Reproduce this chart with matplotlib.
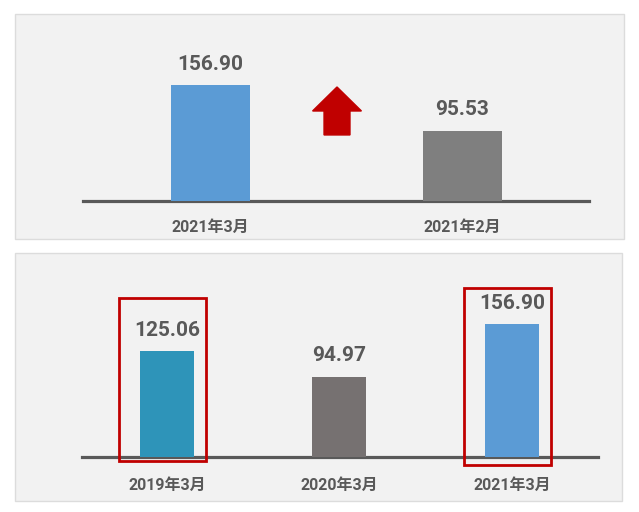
import matplotlib.pyplot as plt
import numpy as np
from matplotlib.patches import Rectangle, FancyArrow

# condensed bold for digits, CJK glyphs fall back to Noto
plt.rcParams['font.family'] = ['Roboto', 'Noto Sans CJK SC', 'DejaVu Sans']
plt.rcParams['font.stretch'] = 'condensed'

# top chart: month-on-month
top_labels = ['2021年3月', '2021年2月']
top_values = [156.90, 95.53]
top_colors = ['#5B9BD5', '#7F7F7F']

# bottom chart: same month across years
bot_labels = ['2019年3月', '2020年3月', '2021年3月']
bot_values = [125.06, 94.97, 156.90]
bot_colors = ['#2E94B9', '#767171', '#5B9BD5']
bot_highlight = [0, 2]

W, H = 639, 512
fig = plt.figure(figsize=(W / 100, H / 100), dpi=100)
fig.patch.set_facecolor('white')


def px_rect(x0, y0, x1, y1):
    # pixel box (top-left origin) -> figure fraction
    return [x0 / W, 1 - y1 / H, (x1 - x0) / W, (y1 - y0) / H]


# panel backgrounds
for x0, y0, x1, y1 in [(15, 14, 624, 239), (15, 253, 622, 501)]:
    l, b, w, h = px_rect(x0, y0, x1, y1)
    fig.patches.append(Rectangle((l, b), w, h, transform=fig.transFigure,
                                 facecolor='#F2F2F2', edgecolor='#DCDCDC', lw=1, zorder=-5))

label_col = '#595959'
val_font = dict(fontsize=15, fontweight='bold', color=label_col)
cat_font = dict(fontsize=11.5, fontweight='bold', color=label_col)


def style_axes(ax, labels, x, drop):
    ax.set_facecolor('none')
    for s in ax.spines.values():
        s.set_visible(False)
    ax.set_xticks([])
    ax.set_yticks([])
    ax.axhline(0, color='#595959', lw=2.3, zorder=1, clip_on=False)
    for xi, lab in zip(x, labels):
        ax.annotate(lab, (xi, 0), xytext=(0, -drop),
                    textcoords='offset pixels', ha='center', va='center', **cat_font)


def value_labels(ax, x, vals):
    for xi, v in zip(x, vals):
        ax.annotate(f'{v:.2f}', (xi, v), xytext=(0, 21), textcoords='offset pixels',
                    ha='center', va='center', **val_font)


# ---- top ----
ax1 = fig.add_axes(px_rect(83, 14, 589, 201))
x1 = np.arange(len(top_values))
ax1.bar(x1, top_values, width=0.313, color=top_colors, zorder=2)
ax1.set_xlim(-0.506, 1.502)
ax1.set_ylim(0, 253.7)
style_axes(ax1, top_labels, x1, 26)
value_labels(ax1, x1, top_values)
ax1.add_patch(FancyArrow(0.502, 89.6, 0, 65.1, width=0.103, head_width=0.194,
                         head_length=32.6, length_includes_head=True,
                         color='#C00000', zorder=3))

# ---- bottom ----
ax2 = fig.add_axes(px_rect(82, 253, 598, 457))
x2 = np.arange(len(bot_values))
ax2.bar(x2, bot_values, width=0.313, color=bot_colors, zorder=2)
ax2.set_xlim(-0.493, 2.499)
ax2.set_ylim(0, 240.8)
style_axes(ax2, bot_labels, x2, 28)
value_labels(ax2, x2, bot_values)
# red highlight frames (bottom, top in data units)
frames = {0: (-4.7, 187.7), 2: (-9.4, 199.5)}
for i in bot_highlight:
    y0, y1 = frames[i]
    ax2.add_patch(Rectangle((i - 0.28, y0), 0.507, y1 - y0, fill=False,
                            edgecolor='#C00000', lw=2, zorder=4, clip_on=False))

fig.savefig('out.png', dpi=100)
